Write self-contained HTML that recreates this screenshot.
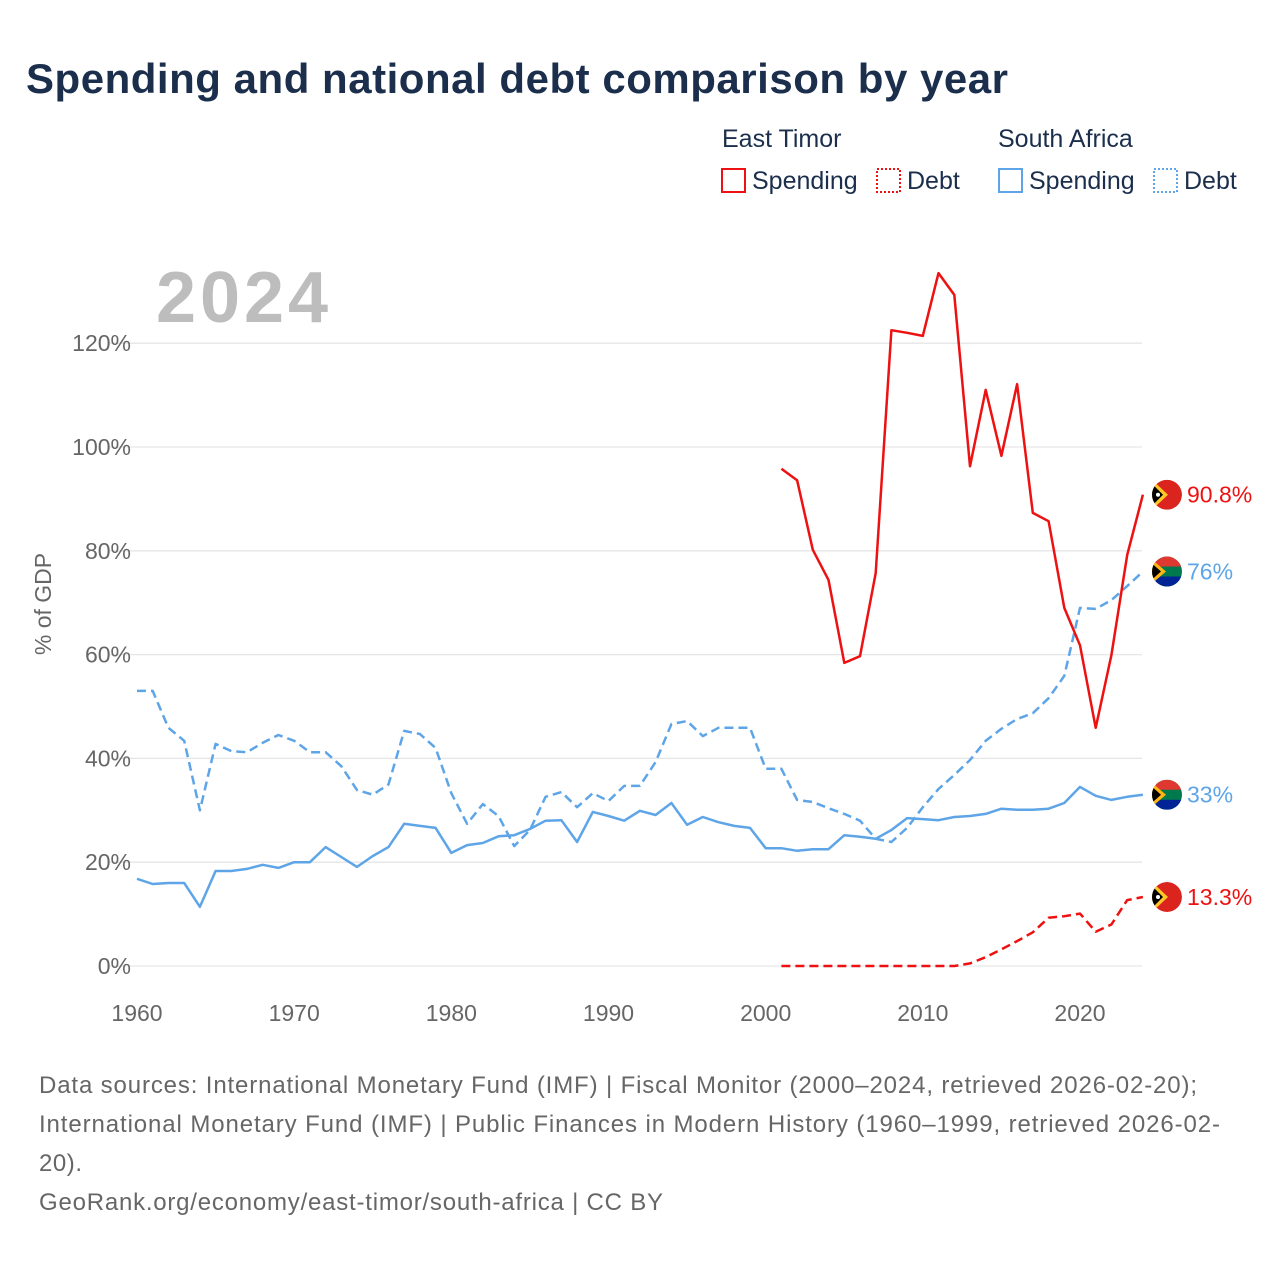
<!DOCTYPE html>
<html><head><meta charset="utf-8">
<style>
body{margin:0;background:#fff;font-family:"Liberation Sans",sans-serif;}
#wrap{position:relative;width:1280px;height:1280px;overflow:hidden;}
svg text{font-family:"Liberation Sans",sans-serif;}
</style></head>
<body>
<div id="wrap">
<svg id="chart" width="1280" height="1280">
<defs id="defs"></defs>
<text x="26" y="93" font-size="42" font-weight="bold" fill="#1b2f4d" textLength="982">Spending and national debt comparison by year</text>
<g>
<text x="722" y="147" font-size="25" fill="#1b2f4d">East Timor</text>
<text x="998" y="147" font-size="25" fill="#1b2f4d">South Africa</text>
<g><rect x="722" y="169" width="23" height="23" fill="none" stroke="#ee1111" stroke-width="2"/><text x="752" y="189" font-size="25" fill="#1b2f4d">Spending</text></g>
<g><rect x="877" y="169" width="23" height="23" fill="none" stroke="#ee1111" stroke-width="2" stroke-dasharray="2,2"/><text x="907" y="189" font-size="25" fill="#1b2f4d">Debt</text></g>
<g><rect x="999" y="169" width="23" height="23" fill="none" stroke="#5ea5e8" stroke-width="2"/><text x="1029" y="189" font-size="25" fill="#1b2f4d">Spending</text></g>
<g><rect x="1154" y="169" width="23" height="23" fill="none" stroke="#5ea5e8" stroke-width="2" stroke-dasharray="2,2"/><text x="1184" y="189" font-size="25" fill="#1b2f4d">Debt</text></g>
</g>
<text x="156" y="322" font-size="72" font-weight="bold" fill="#bdbdbd" textLength="172">2024</text>
<text transform="translate(51,604) rotate(-90)" text-anchor="middle" font-size="23" fill="#666">% of GDP</text>
<g id="grid"></g><g id="series"></g><g id="ends"></g>
<g font-size="24" fill="#666">
<text x="39" y="1093" textLength="1158">Data sources: International Monetary Fund (IMF) | Fiscal Monitor (2000–2024, retrieved 2026-02-20);</text>
<text x="39" y="1132" textLength="1181">International Monetary Fund (IMF) | Public Finances in Modern History (1960–1999, retrieved 2026-02-</text>
<text x="39" y="1171" textLength="43">20).</text>
<text x="39" y="1210" textLength="624">GeoRank.org/economy/east-timor/south-africa | CC BY</text>
</g>
</svg>
</div>
<script>
const yTicks=[0,20,40,60,80,100,120];
const xTicks=[1960,1970,1980,1990,2000,2010,2020];
const saYears0=1960;
const saDebt=[53,53,45.9,43.4,30,42.8,41.4,41.2,43,44.5,43.4,41.2,41.2,38.5,33.9,33,35,45.3,44.7,42,33.3,27.4,31.2,28.9,23.1,26.2,32.6,33.5,30.6,33.3,31.8,34.7,34.7,39.3,46.6,47.2,44.3,45.9,45.9,45.9,38,38,32,31.6,30.4,29.3,28,24.5,23.9,26.6,30.6,34.1,36.8,39.7,43.4,45.7,47.6,48.7,51.6,55.9,69,68.8,70.5,73.2,76];
const saSpending=[16.8,15.8,16,16,11.4,18.3,18.3,18.7,19.5,18.9,20,20,22.9,21,19.1,21.2,22.9,27.4,27,26.6,21.8,23.3,23.7,25,25.2,26.4,28,28.1,23.9,29.7,28.9,28,29.9,29.1,31.4,27.2,28.7,27.7,27,26.6,22.7,22.7,22.2,22.5,22.5,25.2,24.9,24.5,26.2,28.5,28.3,28.1,28.7,28.9,29.3,30.3,30.1,30.1,30.3,31.4,34.5,32.8,32,32.6,33];
const etYears0=2001;
const etSpending=[95.8,93.6,80.2,74.4,58.4,59.7,75.7,122.5,122,121.4,133.5,129.3,96.3,111,98.3,112.1,87.3,85.7,69,61.8,45.9,59.9,79.2,90.8];
const etDebt=[0,0,0,0,0,0,0,0,0,0,0,0,0.5,1.7,3.2,4.8,6.5,9.3,9.6,10.1,6.6,8,12.7,13.3];
const endLabels=["90.8%","76%","33%","13.3%"];

const NS="http://www.w3.org/2000/svg";
const X=y=>137+(y-1960)*(943/60);
const Y=v=>966-v*5.19;
function mk(t,a,p){const e=document.createElementNS(NS,t);for(const k in a)e.setAttribute(k,a[k]);p.appendChild(e);return e;}
const grid=document.getElementById('grid');
yTicks.forEach(v=>{
  const l=mk('line',{x1:110,x2:1142,y1:Y(v),y2:Y(v),stroke:'#e6e6e6','stroke-width':1.3},grid);
  
  
  const t=mk('text',{x:131,y:Y(v)+8,'text-anchor':'end','font-size':23,fill:'#666'},grid);
  t.textContent=v+'%';
  
  
});
xTicks.forEach(v=>{
  const t=mk('text',{x:X(v),y:1021,'text-anchor':'middle','font-size':23,fill:'#666'},grid);
  t.textContent=v;
  
  
});
const S=document.getElementById('series');
function line(vals,y0,color,dash,name){
  const d=vals.map((v,i)=>(i?'L':'M')+X(y0+i).toFixed(1)+','+Y(v).toFixed(1)).join('');
  const p=mk('path',{d:d,fill:'none',stroke:color,'stroke-width':2.5,'stroke-linejoin':'round'},S);
  if(dash)p.setAttribute('stroke-dasharray',dash);
  
  
}
line(saDebt,saYears0,'#5ea5e8','9,5','line-south-africa-debt');
line(saSpending,saYears0,'#5ea5e8',null,'line-south-africa-spending');
line(etDebt,etYears0,'#ee1111','9,5','line-east-timor-debt');
line(etSpending,etYears0,'#ee1111',null,'line-east-timor-spending');
const E=document.getElementById('ends');
const defs=document.getElementById('defs');
const ends=[[etSpending[etSpending.length-1],'#ee1111','et'],[saDebt[saDebt.length-1],'#5ea5e8','sa'],[saSpending[saSpending.length-1],'#5ea5e8','sa'],[etDebt[etDebt.length-1],'#ee1111','et']];
ends.forEach((e,i)=>{
  const cy=Y(e[0]),cx=1167;
  const cp=mk('clipPath',{id:'clip'+i},defs);
  mk('circle',{cx:cx,cy:cy,r:15},cp);
  const g=mk('g',{},E);
  
  
  const f=mk('g',{'clip-path':'url(#clip'+i+')'},g);
  if(e[2]==='et'){
    mk('circle',{cx:cx,cy:cy,r:15,fill:'#dc241f'},f);
    mk('path',{d:`M${cx-15},${cy-15}L${cx+1},${cy}L${cx-15},${cy+15}Z`,fill:'#ffc726'},f);
    mk('path',{d:`M${cx-15},${cy-11}L${cx-4},${cy}L${cx-15},${cy+11}Z`,fill:'#000'},f);
    mk('circle',{cx:cx-9,cy:cy,r:2,fill:'#fff'},f);
  }else{
    mk('rect',{x:cx-15,y:cy-15,width:30,height:30,fill:'#007a4d'},f);
    mk('path',{d:`M${cx-15},${cy-15}h30v10h-30z`,fill:'#de3831'},f);
    mk('path',{d:`M${cx-15},${cy+5}h30v10h-30z`,fill:'#002395'},f);
    mk('path',{d:`M${cx-15},${cy-12}L${cx-1},${cy}L${cx-15},${cy+12}Z`,fill:'#ffb612'},f);
    mk('path',{d:`M${cx-15},${cy-8}L${cx-6},${cy}L${cx-15},${cy+8}Z`,fill:'#000'},f);
  }
  const t=mk('text',{x:1187,y:cy+8,'font-size':23,fill:e[1]},g);
  t.textContent=endLabels[i];
});
</script>
</body></html>
